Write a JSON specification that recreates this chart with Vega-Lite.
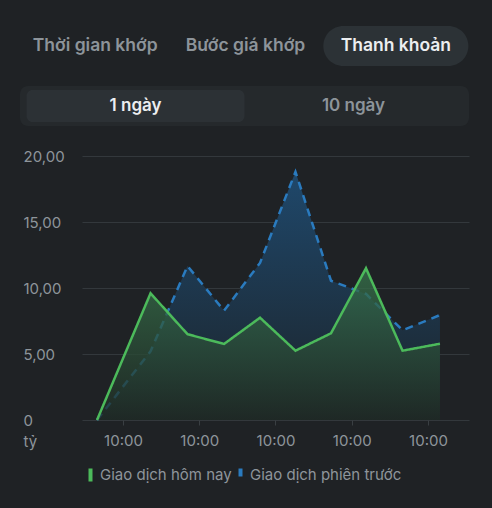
{
  "$schema": "https://vega.github.io/schema/vega-lite/v6.json",
  "background": "#1f2225",
  "padding": {"left": 20, "top": 26, "right": 21, "bottom": 26},
  "config": {"font": "Inter", "view": {"stroke": null}},
  "datasets": {
    "tabs": [
      {"tab": "Thời gian khớp", "state": "inactive"},
      {"tab": "Bước giá khớp", "state": "inactive"},
      {"tab": "Thanh khoản", "state": "active"}
    ],
    "ranges": [
      {"range": "1 ngày", "state": "active", "control": "Khoảng thời gian"},
      {"range": "10 ngày", "state": "inactive", "control": "Khoảng thời gian"}
    ],
    "series": [
      {"t": 0.659, "v": 0, "series": "Giao dịch hôm nay"},
      {"t": 1.361, "v": 9.6, "series": "Giao dịch hôm nay"},
      {"t": 1.846, "v": 6.5, "series": "Giao dịch hôm nay"},
      {"t": 2.325, "v": 5.76, "series": "Giao dịch hôm nay"},
      {"t": 2.797, "v": 7.75, "series": "Giao dịch hôm nay"},
      {"t": 3.262, "v": 5.25, "series": "Giao dịch hôm nay"},
      {"t": 3.728, "v": 6.57, "series": "Giao dịch hôm nay"},
      {"t": 4.187, "v": 11.5, "series": "Giao dịch hôm nay"},
      {"t": 4.666, "v": 5.25, "series": "Giao dịch hôm nay"},
      {"t": 5.157, "v": 5.78, "series": "Giao dịch hôm nay"},
      {"t": 0.659, "v": 0, "series": "Giao dịch phiên trước"},
      {"t": 1.361, "v": 5.2, "series": "Giao dịch phiên trước"},
      {"t": 1.846, "v": 11.67, "series": "Giao dịch phiên trước"},
      {"t": 2.325, "v": 8.28, "series": "Giao dịch phiên trước"},
      {"t": 2.797, "v": 11.9, "series": "Giao dịch phiên trước"},
      {"t": 3.262, "v": 18.8, "series": "Giao dịch phiên trước"},
      {"t": 3.728, "v": 10.55, "series": "Giao dịch phiên trước"},
      {"t": 4.187, "v": 9.55, "series": "Giao dịch phiên trước"},
      {"t": 4.666, "v": 6.8, "series": "Giao dịch phiên trước"},
      {"t": 5.157, "v": 7.95, "series": "Giao dịch phiên trước"}
    ]
  },
  "resolve": {"scale": {"color": "independent", "strokeDash": "independent"}, "legend": {"color": "independent", "strokeDash": "independent"}},
  "spacing": 23,
  "vconcat": [
    {
      "spacing": 20,
      "vconcat": [
        {
          "width": 451,
          "height": 40,
          "data": {"name": "tabs"},
          "encoding": {
            "x": {"field": "tab", "type": "nominal", "axis": null,
              "scale": {"domain": ["Thời gian khớp", "Bước giá khớp", "Thanh khoản"], "paddingInner": 0, "paddingOuter": 0}}
          },
          "layer": [
            {
              "transform": [{"filter": "datum.state == 'active'"}],
              "mark": {"type": "bar", "width": {"band": 0.965}, "cornerRadius": 20, "color": "#2c3236"}
            },
            {
              "mark": {"type": "text", "fontSize": 17.5, "fontWeight": 600},
              "encoding": {
                "text": {"field": "tab"},
                "color": {"field": "state", "type": "nominal", "legend": null,
                  "scale": {"domain": ["active", "inactive"], "range": ["#eceef0", "#8d949a"]}}
              }
            }
          ]
        },
        {
          "width": 449,
          "height": 40,
          "view": {"fill": "#25292c", "cornerRadius": 8, "stroke": null},
          "data": {"name": "ranges"},
          "encoding": {
            "x": {"field": "range", "type": "nominal", "axis": null,
              "scale": {"domain": ["1 ngày", "10 ngày"], "paddingInner": 0, "paddingOuter": 0.03}},
            "y": {"field": "control", "type": "nominal", "axis": null,
              "scale": {"paddingInner": 0, "paddingOuter": 0.125}}
          },
          "layer": [
            {
              "transform": [{"filter": "datum.state == 'active'"}],
              "mark": {"type": "bar", "cornerRadius": 6, "color": "#2c3135"}
            },
            {
              "mark": {"type": "text", "fontSize": 17, "fontWeight": 600},
              "encoding": {
                "text": {"field": "range"},
                "color": {"field": "state", "type": "nominal", "legend": null,
                  "scale": {"domain": ["active", "inactive"], "range": ["#eceef0", "#8d949a"]}}
              }
            }
          ]
        }
      ]
    },
    {
      "width": 449,
      "height": 264,
      "data": {"name": "series"},
      "encoding": {
        "x": {"field": "t", "type": "quantitative",
          "scale": {"domain": [0.462, 5.538], "range": [62, 449], "nice": false, "zero": false},
          "axis": {"values": [1, 2, 3, 4, 5], "labelExpr": "'10:00'", "title": null, "domain": false, "grid": false,
            "ticks": true, "tickSize": 5, "tickColor": "#3a3f43", "labelColor": "#8e959b", "labelFontSize": 15, "labelPadding": 8}},
        "y": {"field": "v", "type": "quantitative",
          "scale": {"domain": [0, 20], "nice": false},
          "axis": {"values": [0, 5, 10, 15, 20],
            "labelExpr": "datum.value == 0 ? '0' : replace(format(datum.value, '.2f'), '.', ',')",
            "domain": false, "ticks": false, "tickSize": 0, "grid": true, "gridColor": "#33383c", "gridWidth": 1,
            "labelAlign": "left", "labelPadding": -3, "labelColor": "#8e959b", "labelFontSize": 15,
            "title": "tỷ", "titleAngle": 0, "titleAlign": "left", "titleBaseline": "middle", "titleX": 3, "titleY": 285,
            "titleFontWeight": "normal", "titleFontSize": 15, "titleColor": "#8e959b"}}
      },
      "layer": [
        {
          "transform": [{"filter": "datum.series == 'Giao dịch phiên trước'"}],
          "mark": {"type": "area", "fill": {"gradient": "linear", "x1": 0, "y1": 0, "x2": 0, "y2": 1,
            "stops": [{"offset": 0, "color": "#1f486b"}, {"offset": 1, "color": "#1c2329"}]}}
        },
        {
          "transform": [{"filter": "datum.series == 'Giao dịch phiên trước'"}],
          "mark": {"type": "line", "strokeWidth": 2.5},
          "encoding": {
            "color": {"field": "series", "type": "nominal",
              "scale": {"domain": ["Giao dịch hôm nay", "Giao dịch phiên trước"], "range": ["#4cba5b", "#2a7bbf"]}},
            "strokeDash": {"field": "series", "type": "nominal",
              "scale": {"domain": ["Giao dịch hôm nay", "Giao dịch phiên trước"], "range": [[1, 0], [8, 6]]}}
          }
        },
        {
          "transform": [{"filter": "datum.series == 'Giao dịch hôm nay'"}],
          "mark": {"type": "area", "fillOpacity": 0.76, "fill": {"gradient": "linear", "x1": 0, "y1": 0, "x2": 0, "y2": 1,
            "stops": [{"offset": 0, "color": "#37744c"}, {"offset": 1, "color": "#1f2a24"}]}}
        },
        {
          "transform": [{"filter": "datum.series == 'Giao dịch hôm nay'"}],
          "mark": {"type": "line", "strokeWidth": 2.5},
          "encoding": {
            "color": {"field": "series", "type": "nominal",
              "scale": {"domain": ["Giao dịch hôm nay", "Giao dịch phiên trước"], "range": ["#4cba5b", "#2a7bbf"]},
              "legend": {"orient": "none", "legendX": 62, "legendY": 310.5, "direction": "horizontal", "title": null,
                "symbolType": "M0,-1L0,1", "symbolSize": 169, "symbolStrokeWidth": 4,
                "labelFontSize": 15, "labelColor": "#8e959b", "labelOffset": 1, "columnPadding": -7}},
            "strokeDash": {"field": "series", "type": "nominal",
              "scale": {"domain": ["Giao dịch hôm nay", "Giao dịch phiên trước"], "range": [[1, 0], [8, 6]]},
              "legend": {"orient": "none", "legendX": 62, "legendY": 310.5, "direction": "horizontal", "title": null,
                "symbolType": "M0,-1L0,1", "symbolSize": 169, "symbolStrokeWidth": 4,
                "labelFontSize": 15, "labelColor": "#8e959b", "labelOffset": 1, "columnPadding": -7}}
          }
        }
      ]
    }
  ]
}
